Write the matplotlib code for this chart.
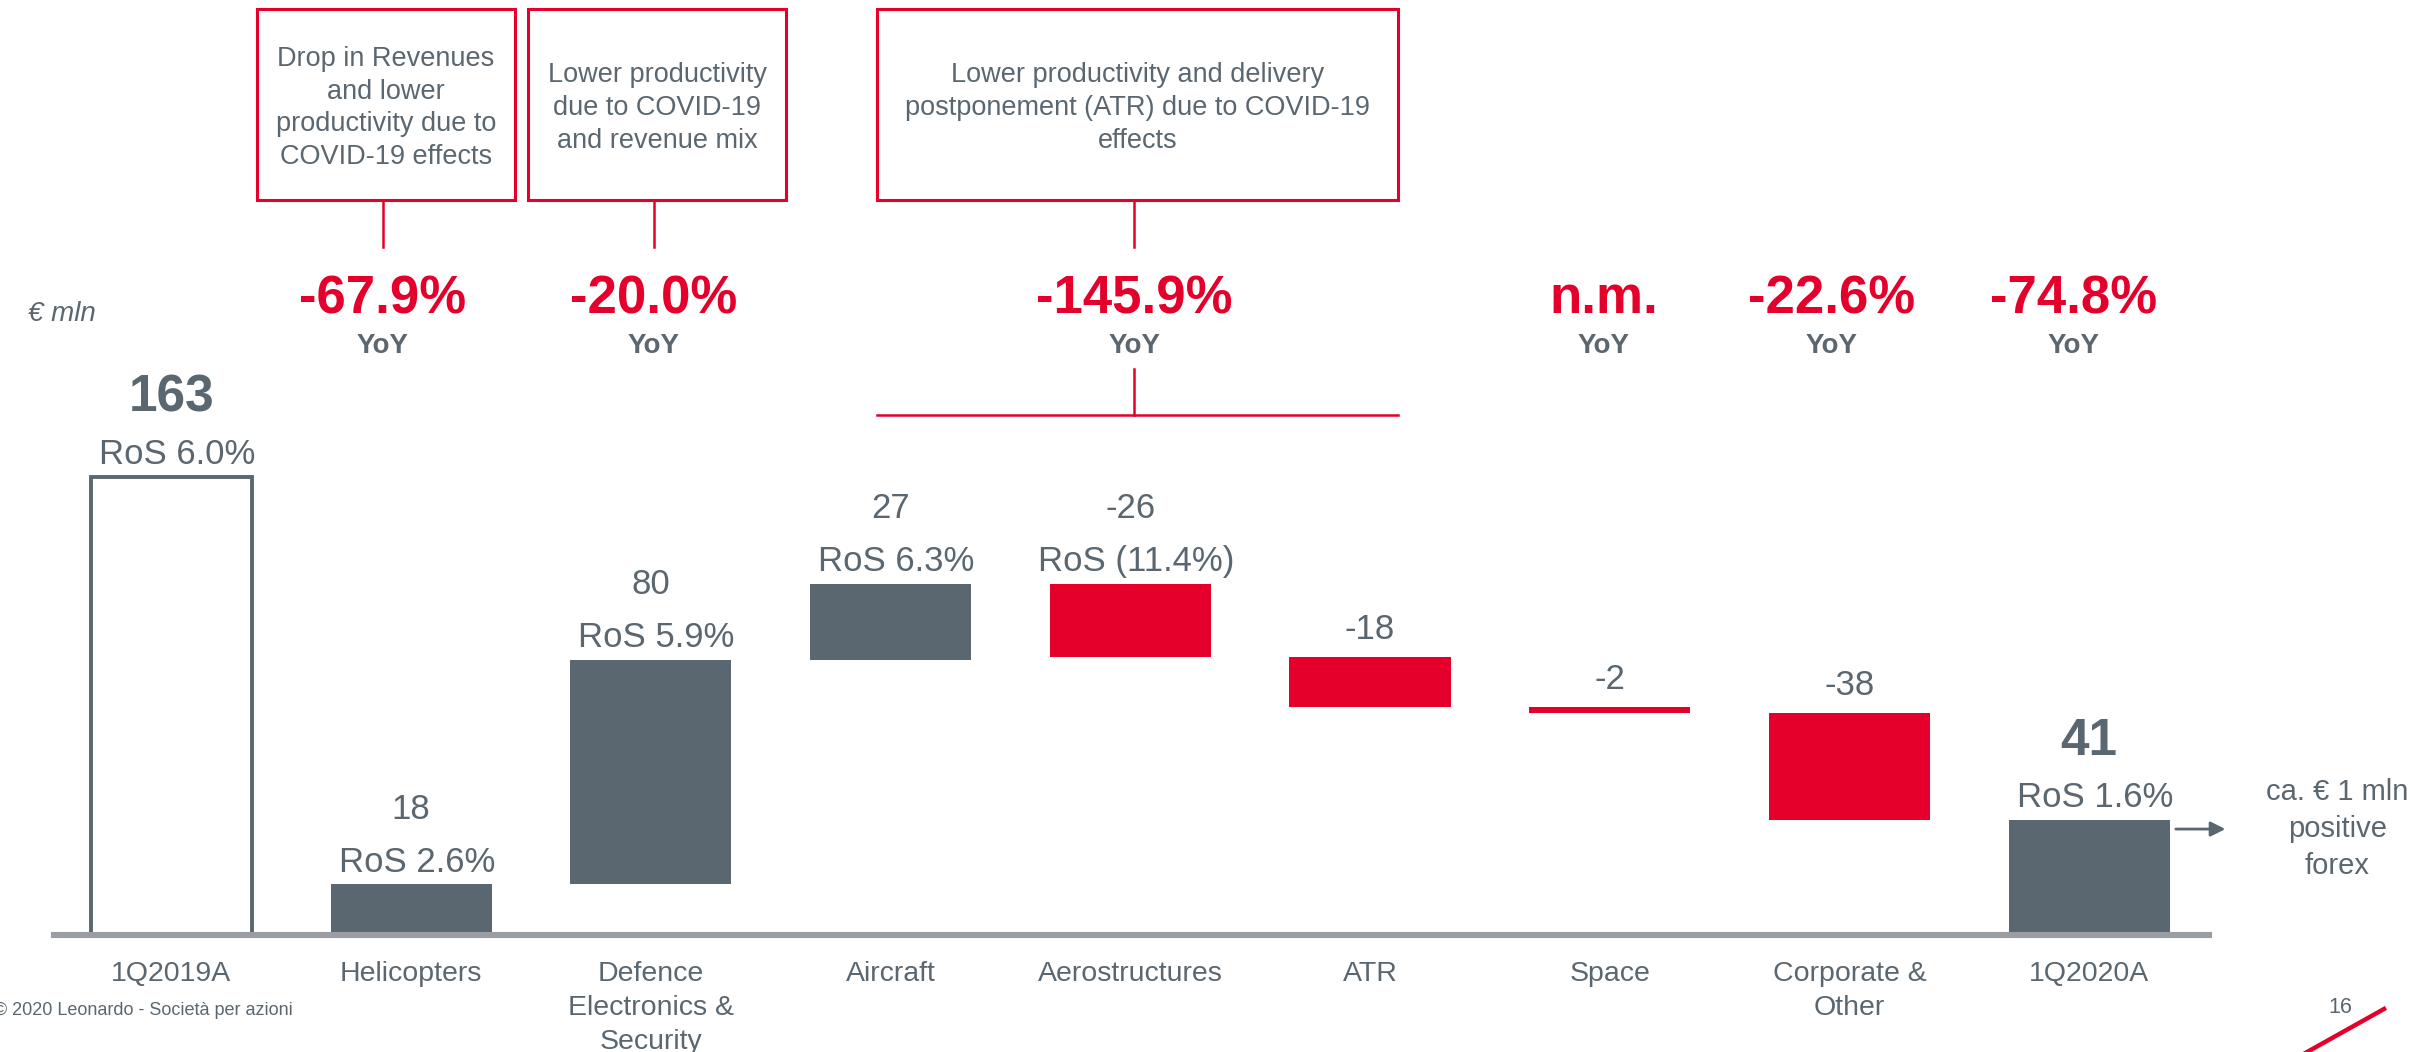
import numpy as np
import matplotlib.pyplot as plt
from matplotlib import transforms
from matplotlib.patches import Rectangle
from matplotlib.lines import Line2D

plt.rcParams['font.family'] = ['Liberation Sans', 'DejaVu Sans']

# EBITA bridge 1Q2019A -> 1Q2020A, EUR mln
categories = ['1Q2019A', 'Helicopters', 'Defence\nElectronics &\nSecurity', 'Aircraft',
              'Aerostructures', 'ATR', 'Space', 'Corporate &\nOther', '1Q2020A']
values = [163, 18, 80, 27, -26, -18, -2, -38, 41]
kinds = ['prior', 'step', 'step', 'step', 'step', 'step', 'step', 'step', 'current']
value_labels = ['163', '18', '80', '27', '-26', '-18', '-2', '-38', '41']
ros_labels = ['RoS 6.0%', 'RoS 2.6%', 'RoS 5.9%', 'RoS 6.3%', 'RoS (11.4%)', '', '', '', 'RoS 1.6%']

# YoY change per division (first / last category index covered)
yoy_labels = ['-67.9%', '-20.0%', '-145.9%', 'n.m.', '-22.6%', '-74.8%']
yoy_first = [1, 2, 3, 6, 7, 8]
yoy_last = [1, 2, 5, 6, 7, 8]

comments = ['Drop in Revenues\nand lower\nproductivity due to\nCOVID-19 effects',
            'Lower productivity\ndue to COVID-19\nand revenue mix',
            'Lower productivity and delivery\npostponement (ATR) due to COVID-19\neffects']
comment_yoy = [0, 1, 2]

forex_note = 'ca. € 1 mln\npositive\nforex'

GRAY = '#5B6770'
RED = '#E4002B'
LINE = '#9A9EA2'

W, H = 2412, 1052
fig = plt.figure(figsize=(W / 100, H / 100), dpi=100)
ax = fig.add_axes([54 / W, 1 - 935 / H, 2155 / W, 935 / H])

# waterfall geometry
x = np.arange(len(categories))
bottoms, heights = [], []
running = 0
for v, k in zip(values, kinds):
    if k == 'step':
        bottoms.append(min(running, running + v))
        heights.append(abs(v))
        running += v
    else:
        bottoms.append(0)
        heights.append(v)
tops = [b + h for b, h in zip(bottoms, heights)]

for i, k in enumerate(kinds):
    if k == 'prior':
        ax.bar(x[i], heights[i], bottom=bottoms[i], width=0.672, facecolor='white',
               edgecolor=GRAY, linewidth=2.8)
    else:
        col = RED if (k == 'step' and values[i] < 0) else GRAY
        ax.bar(x[i], heights[i], bottom=bottoms[i], width=0.672, color=col, linewidth=0)

# value / RoS labels
for i in range(len(categories)):
    bold = kinds[i] != 'step'
    if ros_labels[i]:
        ax.annotate(ros_labels[i], (x[i], tops[i]), xytext=(4, 9), textcoords='offset points',
                    ha='center', va='baseline', fontsize=25, color=GRAY)
        dy = 47
    else:
        dy = 13
    ax.annotate(value_labels[i], (x[i], tops[i]), xytext=(0, dy), textcoords='offset points',
                ha='center', va='baseline', fontsize=37 if bold else 25,
                fontweight='bold' if bold else 'normal', color=GRAY)

ax.set_xlim(-0.49, 8.5)
ax.set_ylim(0, 935 / 2.81)
ax.set_xticks(x, categories)
ax.tick_params(axis='x', length=0, pad=19, labelsize=20.5, labelcolor=GRAY)
for lbl in ax.get_xticklabels():
    lbl.set_linespacing(1.38)
ax.set_yticks([])
for s in ['top', 'left', 'right']:
    ax.spines[s].set_visible(False)
ax.spines['bottom'].set_color(LINE)
ax.spines['bottom'].set_linewidth(4.4)
ax.patch.set_alpha(0)

# YoY row and comment boxes (x in data, y in figure)
tr = transforms.blended_transform_factory(ax.transData, fig.transFigure)
fy = lambda px: 1 - px / H
nudge = [-0.118, 0.013, 0.016, -0.024, -0.073, -0.067]
yoy_x = [(a + b) / 2 + n for a, b, n in zip(yoy_first, yoy_last, nudge)]
for xi, lab in zip(yoy_x, yoy_labels):
    ax.text(xi, fy(313), lab, transform=tr, ha='center', va='baseline', fontsize=38,
            fontweight='bold', color=RED, clip_on=False)
    ax.text(xi, fy(353), 'YoY', transform=tr, ha='center', va='baseline', fontsize=20,
            fontweight='bold', color=GRAY, clip_on=False)

for txt, j in zip(comments, comment_yoy):
    span = yoy_last[j] - yoy_first[j]
    bw = 1.074 + 0.55 * span
    cx = yoy_x[j] + (0.013 if span == 0 else 0.014)
    ax.add_patch(Rectangle((cx - bw / 2, fy(200)), bw, fy(9) - fy(200), transform=tr,
                           facecolor='none', edgecolor=RED, linewidth=2.2, clip_on=False))
    ax.text(cx, fy(108), txt, transform=tr, ha='center', va='center', fontsize=19.5,
            color=GRAY, linespacing=1.33, clip_on=False)
    ax.add_line(Line2D([yoy_x[j], yoy_x[j]], [fy(200), fy(247)], transform=tr,
                       color=RED, linewidth=1.8, clip_on=False))
    if span > 0:
        ax.add_line(Line2D([yoy_x[j], yoy_x[j]], [fy(369), fy(415)], transform=tr,
                           color=RED, linewidth=1.8, clip_on=False))
        ax.add_line(Line2D([cx - bw / 2, cx + bw / 2], [fy(415), fy(415)], transform=tr,
                           color=RED, linewidth=1.8, clip_on=False))

# forex note on the last bar
last = len(categories) - 1
ay = tops[last] - 3.3
ax.annotate('', xy=(last + 0.58, ay), xytext=(last + 0.35, ay),
            arrowprops=dict(arrowstyle='-|>', color=GRAY, lw=2, mutation_scale=22),
            annotation_clip=False)
ax.text(last + 1.035, ay, forex_note, ha='center', va='center', fontsize=21,
        color=GRAY, linespacing=1.4, clip_on=False)

# slide furniture
fig.text(28 / W, fy(321), '€ mln', fontsize=20, style='italic', color=GRAY, va='baseline')
fig.text(-6 / W, fy(1015), '© 2020 Leonardo - Società per azioni', fontsize=13,
         color=GRAY, va='baseline')
fig.text(2340 / W, fy(1013), '16', fontsize=15.5, color=GRAY, ha='center', va='baseline')
fig.add_artist(Line2D([2300 / W, 2384 / W], [fy(1056), fy(1009)], transform=fig.transFigure,
                      color=RED, linewidth=3.2))

fig.savefig('out.png', dpi=100, facecolor='white')
